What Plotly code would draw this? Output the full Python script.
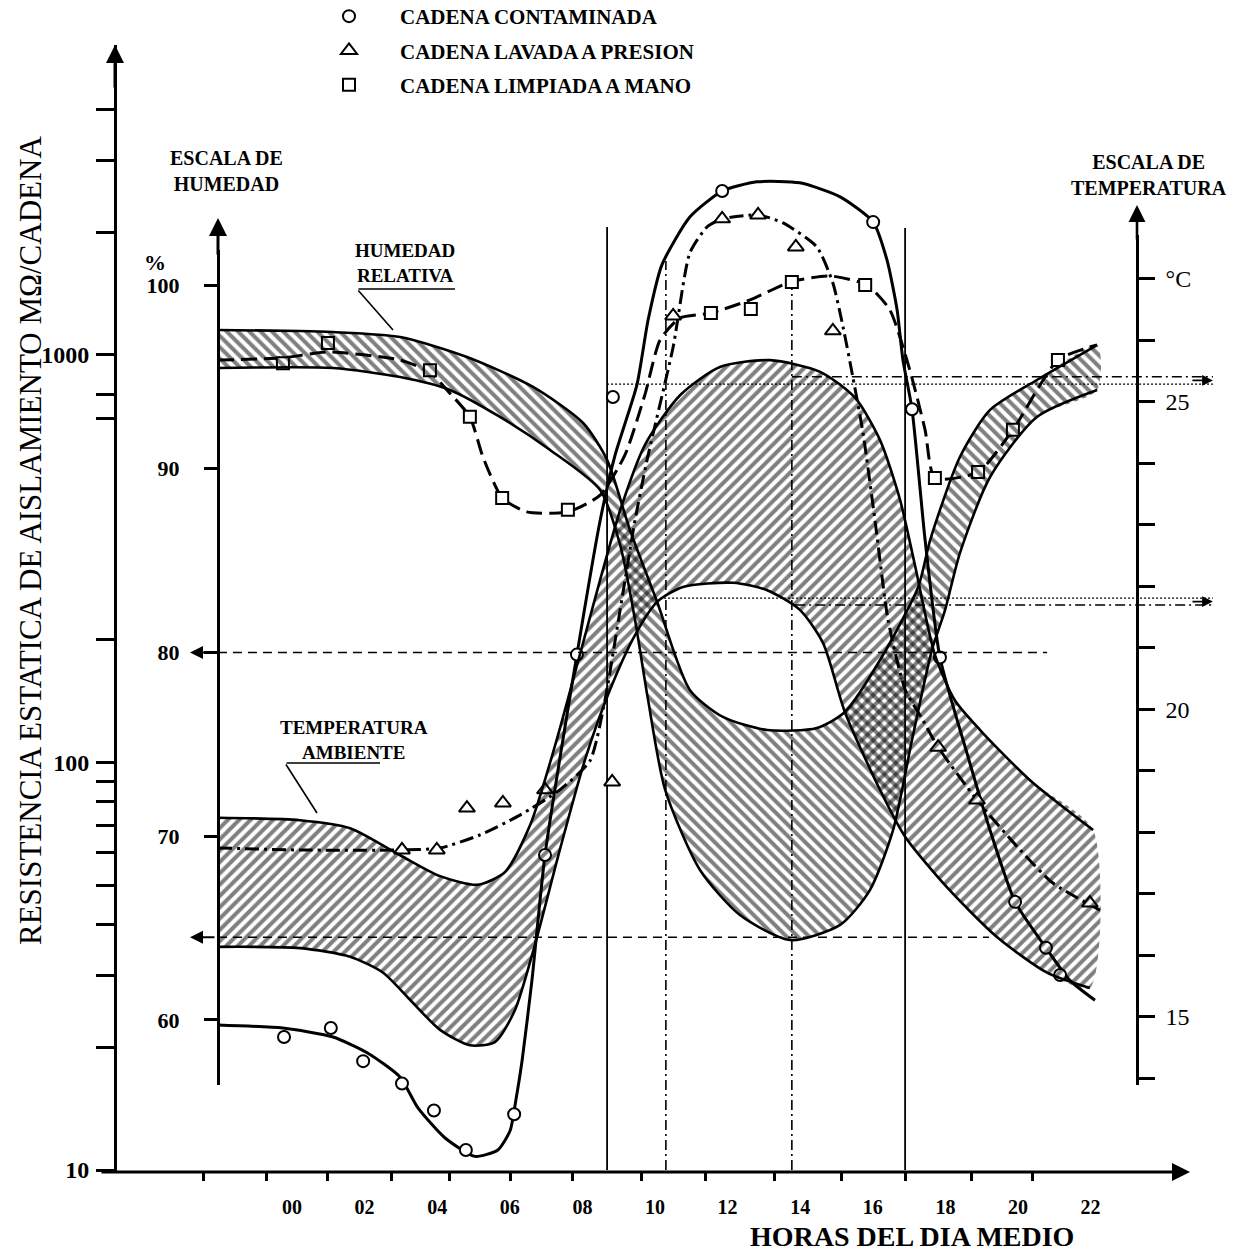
import plotly.graph_objects as go

SERIF = "Liberation Serif"

# ---------------- data ----------------
# x axis: hour of the mean day
hour_ticks = [0, 2, 4, 6, 8, 10, 12, 14, 16, 18, 20, 22]
hour_labels = ["00", "02", "04", "06", "08", "10", "12", "14", "16", "18", "20", "22"]
hour_minor_ticks = [-2.45, -0.69, 0.99, 2.73, 4.33, 6.01, 7.74, 9.64, 11.38, 13.28, 15.15, 16.89, 18.71, 20.41]

# left scale: static insulation resistance (MOhm per string), log
res_major = [10, 100, 1000]
res_minor = [20, 30, 40, 50, 60, 70, 80, 90, 200, 700, 800, 2000, 3000, 4000]

# humidity scale (%)
hum_ticks = [60, 70, 80, 90, 100]

# temperature scale (degC)
temp_ticks = [14, 15, 16, 17, 18, 19, 20, 21, 22, 23, 24, 25, 26, 27]
temp_labels = ["", "15", "", "", "", "", "20", "", "", "", "", "25", "", "°C"]

# contaminated string: measured points and drawn curve
contam_pts_h = [-0.22, 1.07, 1.96, 3.03, 3.91, 4.79, 6.12, 6.97, 7.85, 8.84, 11.85, 16.01, 17.08, 17.85, 19.92, 20.77, 21.16]
contam_pts_r = [21.2, 22.3, 18.5, 16.3, 14.0, 11.2, 13.7, 59.3, 184, 789, 2525, 2119, 736, 181, 45.5, 35.1, 30.1]
contam_curve_h = [-2.04, -0.25, 1.13, 2.07, 2.98, 3.47, 4.21, 5.04, 5.67, 6.01, 6.17, 6.34, 6.61, 6.97, 7.85,
                  8.49, 8.9, 9.5, 9.81, 10.19, 10.96, 11.85, 12.81, 13.99, 15.1, 16.01, 16.39, 16.67, 16.83,
                  17.08, 17.44, 17.85, 18.6, 19.23, 19.92, 20.77, 21.43, 22.12]
contam_curve_r = [22.7, 22.3, 21.2, 19.4, 16.9, 14.2, 12.0, 10.8, 11.2, 12.5, 14.9, 18.6, 29.2, 59.3, 184,
                  393, 568, 843, 1219, 1664, 2181, 2525, 2660, 2645, 2443, 2119, 1711, 1290, 972,
                  736, 352, 181, 105, 68.2, 45.5, 35.1, 29.2, 26.1]

# pressure-washed string
wash_pts_h = [3.03, 3.99, 4.82, 5.81, 6.97, 8.82, 10.5, 11.85, 12.84, 13.88, 14.9, 17.8, 18.87, 21.98]
wash_pts_r = [61.0, 61.0, 77.3, 79.6, 85.7, 89.6, 1247, 2158, 2206, 1841, 1146, 109, 80.9, 45.2]
wash_curve_h = [-2.04, 0.22, 2.98, 4.08, 5.18, 6.28, 7.38, 8.21, 8.62, 9.04, 9.45, 9.78, 10.5, 10.96, 11.43,
                11.85, 12.84, 13.53, 14.46, 14.9, 15.18, 15.45, 15.73, 16.06, 16.42, 16.89, 17.38, 17.8,
                18.87, 20.06, 20.96, 22.26]
wash_curve_r = [61.7, 61.0, 61.0, 61.7, 66.4, 74.3, 85.7, 101, 142, 237, 393, 552, 1046, 1780, 2060,
                2158, 2206, 2109, 1841, 1502, 1172, 883, 644, 393, 224, 151, 127, 109,
                80.9, 61.0, 50.6, 43.4]

# hand-cleaned string
hand_pts_h = [-0.25, 0.99, 3.8, 4.9, 5.79, 7.6, 11.54, 12.64, 13.77, 15.79, 17.71, 18.9, 19.86, 21.1]
hand_pts_r = [955, 1070, 918, 705, 446, 417, 1268, 1297, 1510, 1485, 499, 516, 655, 972]
hand_curve_h = [-2.04, -0.25, 0.99, 2.98, 3.8, 4.27, 4.9, 5.26, 5.79, 6.47, 7.6, 8.49, 9.17, 9.72, 10.14,
                10.69, 11.54, 12.62, 13.72, 14.82, 15.84, 16.47, 17.02, 17.44, 17.71, 18.9, 19.86, 21.1, 22.18]
hand_curve_r = [972, 984, 1017, 972, 908, 820, 705, 562, 446, 412, 412, 453, 568, 798, 1089,
                1233, 1268, 1365, 1510, 1563, 1485, 1290, 918, 655, 499, 516, 655, 972, 1059]

# relative humidity band (upper / lower envelope, %)
hum_upper_h = [-2.04, 0.22, 1.13, 2.98, 4.82, 6.64, 8.02, 8.68, 9.31, 10.06, 10.96, 11.87, 13.09, 14.46,
               15.23, 16.2, 17.25, 17.58, 18.4, 19.23, 20.52, 22.18]
hum_upper = [97.55, 97.5, 97.44, 97.17, 96.08, 94.45, 92.49, 90.48, 86.67, 82.75, 77.96, 76.49, 75.78, 75.89,
             76.76, 79.59, 83.56, 86.12, 90.64, 93.2, 94.83, 96.73]
hum_lower_h = [-2.04, 1.13, 2.98, 4.35, 5.73, 7.11, 8.49, 9.04, 9.45, 9.81, 10.28, 11.24, 12.34, 13.72,
               15.1, 15.92, 16.56, 17.08, 17.63, 17.99, 18.4, 19.23, 20.52, 22.18]
hum_lower = [95.48, 95.48, 94.99, 94.29, 92.82, 91.02, 88.84, 85.85, 81.77, 77.41, 72.52, 68.16, 65.71, 64.35,
             65.17, 67.07, 70.34, 75.24, 80.14, 82.31, 85.41, 89.55, 92.82, 94.29]

# ambient temperature band (upper / lower envelope, degC)
temp_upper_h = [-2.04, 0.22, 1.6, 2.98, 4.08, 5.12, 5.87, 6.56, 7.25, 7.93, 8.49, 9.04, 9.72, 10.69, 11.79,
                13.17, 14.55, 15.51, 16.2, 16.75, 17.16, 17.71, 18.26, 18.95, 20.33, 22.07]
temp_upper = [18.24, 18.2, 18.07, 17.63, 17.29, 17.15, 17.36, 18.12, 19.42, 20.89, 22.11, 23.24, 24.3, 25.11, 25.57,
              25.68, 25.49, 25.07, 24.38, 23.41, 22.35, 20.89, 20.15, 19.67, 18.85, 18.04]
temp_lower_h = [-2.04, 0.22, 1.6, 2.51, 3.25, 4.08, 4.9, 5.59, 6.14, 6.69, 7.38, 8.07, 8.76, 9.45, 10.06,
                10.77, 12.15, 13.09, 13.99, 14.63, 15.23, 16.2, 16.89, 18.04, 19.42, 20.8, 21.98]
temp_lower = [16.14, 16.12, 15.98, 15.72, 15.28, 14.79, 14.54, 14.59, 15.11, 16.17, 17.72, 19.18, 20.32, 21.21, 21.75,
              21.99, 22.06, 21.94, 21.62, 21.08, 19.96, 18.69, 17.93, 17.11, 16.3, 15.72, 15.47]

# reference lines
hum_marks = [80.0, 64.5]
hum_mark_from_h = -2.04
hum_mark_to_h = [20.8, 19.2]
temp_dotted = [25.29, 21.81]
temp_dotted_from_h = [8.68, 10.14]
temp_dashdot = [25.41, 21.70]
temp_dashdot_from_h = [13.77, 13.86]
temp_mark_to_h = 25.37
solid_guide_h = [8.68, 16.89]
solid_guide_top = [2060, 2050]
dashdot_guide_h = [10.3, 13.77]
dashdot_guide_top = [1700, 1510]

# ---------------- layout helpers ----------------
W, H = 1245, 1253
L, R, T, B = 100, 15, 45, 81


def fx(p):
    return (p - L) / (W - L - R)


def fy(p):
    return (H - B - p) / (H - T - B)


BLACK = "black"
fig = go.Figure()


def add_band(h_up, v_up, h_lo, v_lo, yaxis, shape):
    fig.add_trace(go.Scatter(
        x=h_up + h_lo[::-1], y=v_up + v_lo[::-1], xaxis="x", yaxis=yaxis,
        mode="lines", line=dict(width=0, shape="spline", smoothing=0.7),
        fill="toself", fillcolor="rgba(0,0,0,0)",
        fillpattern=dict(shape=shape, fgcolor=BLACK, size=8, solidity=0.5),
        hoverinfo="skip", showlegend=False))
    for hh, vv in ((h_up, v_up), (h_lo, v_lo)):
        fig.add_trace(go.Scatter(
            x=hh, y=vv, xaxis="x", yaxis=yaxis, mode="lines",
            line=dict(color=BLACK, width=2.6, shape="spline", smoothing=0.7),
            hoverinfo="skip", showlegend=False))


add_band(hum_upper_h, hum_upper, hum_lower_h, hum_lower, "y2", "\\")
add_band(temp_upper_h, temp_upper, temp_lower_h, temp_lower, "y3", "/")

# reference lines towards the humidity scale
for val, to_h in zip(hum_marks, hum_mark_to_h):
    fig.add_trace(go.Scatter(x=[hum_mark_from_h, to_h], y=[val, val], yaxis="y2", mode="lines",
                             line=dict(color=BLACK, width=1.6, dash="9px,6px"),
                             hoverinfo="skip", showlegend=False))
# reference lines towards the temperature scale
for val, from_h in zip(temp_dotted, temp_dotted_from_h):
    fig.add_trace(go.Scatter(x=[from_h, temp_mark_to_h], y=[val, val], yaxis="y3", mode="lines",
                             line=dict(color=BLACK, width=1.3, dash="2px,2px"),
                             hoverinfo="skip", showlegend=False))
for val, from_h in zip(temp_dashdot, temp_dashdot_from_h):
    fig.add_trace(go.Scatter(x=[from_h, temp_mark_to_h], y=[val, val], yaxis="y3", mode="lines",
                             line=dict(color=BLACK, width=1.6, dash="10px,4px,2px,4px"),
                             hoverinfo="skip", showlegend=False))
# vertical guides
for hh, top in zip(solid_guide_h, solid_guide_top):
    fig.add_trace(go.Scatter(x=[hh, hh], y=[10, top], yaxis="y", mode="lines",
                             line=dict(color=BLACK, width=1.8), hoverinfo="skip", showlegend=False))
for hh, top in zip(dashdot_guide_h, dashdot_guide_top):
    fig.add_trace(go.Scatter(x=[hh, hh], y=[10, top], yaxis="y", mode="lines",
                             line=dict(color=BLACK, width=1.6, dash="10px,4px,2px,4px"),
                             hoverinfo="skip", showlegend=False))

# resistance curves
fig.add_trace(go.Scatter(x=contam_curve_h, y=contam_curve_r, yaxis="y", mode="lines",
                         line=dict(color=BLACK, width=3, shape="spline", smoothing=0.6),
                         hoverinfo="skip", showlegend=False))
fig.add_trace(go.Scatter(x=wash_curve_h, y=wash_curve_r, yaxis="y", mode="lines",
                         line=dict(color=BLACK, width=3, shape="spline", smoothing=0.6, dash="14px,5px,3px,5px"),
                         hoverinfo="skip", showlegend=False))
fig.add_trace(go.Scatter(x=hand_curve_h, y=hand_curve_r, yaxis="y", mode="lines",
                         line=dict(color=BLACK, width=3, shape="spline", smoothing=0.6, dash="16px,7px"),
                         hoverinfo="skip", showlegend=False))

# measured points (these also make the legend)
fig.add_trace(go.Scatter(x=contam_pts_h, y=contam_pts_r, yaxis="y", mode="markers",
                         name="CADENA CONTAMINADA", legendgroup="a",
                         marker=dict(symbol="circle", size=12, color="white", line=dict(color=BLACK, width=2))))
fig.add_trace(go.Scatter(x=wash_pts_h, y=wash_pts_r, yaxis="y", mode="markers",
                         name="CADENA LAVADA A PRESION", legendgroup="b",
                         marker=dict(symbol="triangle-up", size=14, color="white", line=dict(color=BLACK, width=2))))
fig.add_trace(go.Scatter(x=hand_pts_h, y=hand_pts_r, yaxis="y", mode="markers",
                         name="CADENA LIMPIADA A MANO", legendgroup="c",
                         marker=dict(symbol="square", size=12, color="white", line=dict(color=BLACK, width=2))))

# ---------------- annotations ----------------
ann = []


def arrow(tip_x, tip_y, dx, dy, width=3, size=1.3, head=2):
    ann.append(dict(x=fx(tip_x), y=fy(tip_y), xref="paper", yref="paper", text="", showarrow=True,
                    ax=dx, ay=dy, arrowhead=head, arrowsize=size, arrowwidth=width, arrowcolor=BLACK))


def leader(x0, y0, x1, y1, width=1.6):
    ann.append(dict(x=fx(x1), y=fy(y1), xref="paper", yref="paper", text="", showarrow=True,
                    ax=x0 - x1, ay=y0 - y1, arrowhead=0, arrowwidth=width, arrowcolor=BLACK))


def label(text, x, y, size, bold=True, angle=0):
    ann.append(dict(x=fx(x), y=fy(y), xref="paper", yref="paper", text=text, showarrow=False,
                    xanchor="center", yanchor="middle", textangle=angle,
                    font=dict(family=SERIF, size=size, color=BLACK, weight="bold" if bold else "normal")))


# axis lines and arrow heads
arrow(1190, 1172, -1090, 0, width=3, size=1.2)   # hour axis
arrow(115, 45, 0, 44, width=3, size=1.2)         # resistance axis head
arrow(218, 218, 0, 38, width=3, size=1.2)        # humidity axis head
arrow(1137, 205, 0, 36, width=2.6, size=1.3)     # temperature axis head
# reference arrow heads
for val in hum_marks:
    ann.append(dict(x=-2.81, y=val, xref="x", yref="y2", text="", showarrow=True, ax=26, ay=0,
                    arrowhead=2, arrowsize=1.3, arrowwidth=2, arrowcolor=BLACK))
for a, b in zip(temp_dotted, temp_dashdot):
    ann.append(dict(x=temp_mark_to_h, y=(a + b) / 2, xref="x", yref="y3", text="", showarrow=True,
                    ax=-22, ay=0, arrowhead=2, arrowsize=1.2, arrowwidth=1.8, arrowcolor=BLACK))

label("ESCALA DE<br>HUMEDAD", 226, 171, 20)
label("%", 155, 262, 22)
label("ESCALA DE<br>TEMPERATURA", 1149, 175, 20)
label("HUMEDAD<br>RELATIVA", 405, 263, 19)
leader(357, 289, 455, 289)
leader(357, 289, 393, 330)
label("TEMPERATURA<br>AMBIENTE", 354, 740, 19)
leader(285, 763, 380, 763)
leader(285, 763, 317, 813)
label("RESISTENCIA ESTATICA DE AISLAMIENTO MΩ/CADENA", 30, 541, 31, bold=False, angle=-90)
label("HORAS DEL DIA MEDIO", 912, 1236, 28)

fig.update_layout(
    width=W, height=H,
    margin=dict(l=L, r=R, t=T, b=B, autoexpand=False),
    paper_bgcolor="white", plot_bgcolor="rgba(0,0,0,0)",
    showlegend=True,
    legend=dict(x=fx(298), y=fy(-4), xanchor="left", yanchor="top", bgcolor="rgba(0,0,0,0)",
                font=dict(family=SERIF, size=21, color=BLACK, weight="bold"),
                itemwidth=92, tracegroupgap=4, traceorder="grouped"),
    annotations=ann,
    xaxis=dict(range=[-5.289, 25.84], domain=[0, 1], anchor="y", showline=False, showgrid=False,
               zeroline=False, tickmode="array", tickvals=hour_ticks, ticktext=hour_labels, ticks="",
               ticklabelstandoff=21, tickfont=dict(family=SERIF, size=20, color=BLACK, weight="bold"),
               minor=dict(tickmode="array", tickvals=hour_minor_ticks, ticks="outside", ticklen=8,
                          tickwidth=2.5, tickcolor=BLACK, showgrid=False)),
    yaxis=dict(type="log", range=[0.9951, 3.7607], domain=[0, 1], anchor="free", position=fx(115),
               showline=True, linewidth=3, linecolor=BLACK, showgrid=False, zeroline=False,
               tickmode="array", tickvals=res_major, ticktext=["10", "100", "1000"],
               ticks="outside", ticklen=18, tickwidth=2.5, tickcolor=BLACK, ticklabelstandoff=2,
               tickfont=dict(family=SERIF, size=24, color=BLACK, weight="bold"),
               minor=dict(tickmode="array", tickvals=res_minor, ticks="outside", ticklen=18,
                          tickwidth=2.5, tickcolor=BLACK, showgrid=False)),
    yaxis2=dict(range=[56.46, 101.905], domain=[fy(1085), fy(250)], anchor="free", position=fx(218),
                side="left", showline=True, linewidth=3, linecolor=BLACK, showgrid=False, zeroline=False,
                tickmode="array", tickvals=hum_ticks, ticks="outside", ticklen=13, tickwidth=2.5,
                tickcolor=BLACK, ticklabelstandoff=20,
                tickfont=dict(family=SERIF, size=22, color=BLACK, weight="bold")),
    yaxis3=dict(range=[13.894, 27.715], domain=[fy(1085), fy(235)], anchor="free", position=fx(1137),
                side="right", showline=True, linewidth=2.6, linecolor=BLACK, showgrid=False, zeroline=False,
                tickmode="array", tickvals=temp_ticks, ticktext=temp_labels, ticks="outside", ticklen=16,
                tickwidth=2.5, tickcolor=BLACK, ticklabelstandoff=6,
                tickfont=dict(family=SERIF, size=24, color=BLACK)),
)

fig.write_html("out.html")
